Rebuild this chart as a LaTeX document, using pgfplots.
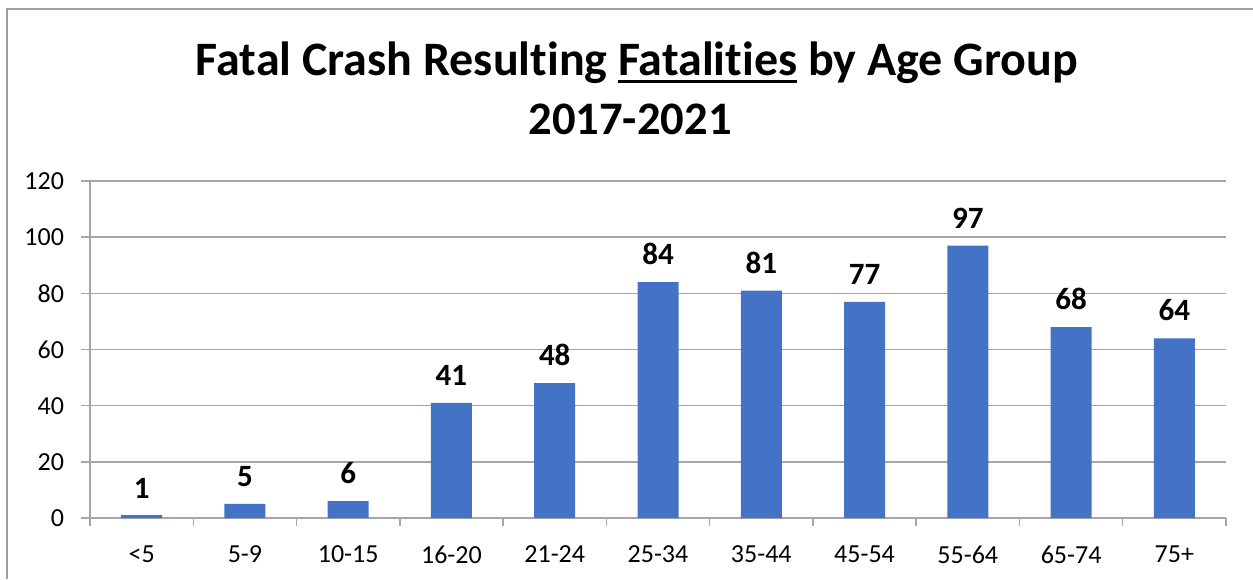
\documentclass[border=0pt]{standalone}
\usepackage{fontspec}
\setmainfont{Carlito}[Ligatures=NoCommon]
\usepackage{pgfplots}
\pgfplotsset{compat=1.18}
\definecolor{barblue}{HTML}{4472C4}
\definecolor{gridgray}{HTML}{A6A6A6}
\definecolor{framegray}{HTML}{A0A0A0}
\newlength\ulw
\newcommand\thickul[1]{\settowidth\ulw{#1}\rlap{\rule[-3.75pt]{\ulw}{1.5pt}}#1}
\begin{document}
\begin{tikzpicture}[x=0.5pt,y=0.5pt]
\useasboundingbox (0,0) rectangle (1253,579);
\draw[framegray, line width=1pt] (7,0) -- (7,569.5) -- (1253,569.5);
\node[font=\bfseries\fontsize{24}{29}\selectfont, anchor=base, inner sep=0pt] at (637,503) {Fatal Crash Result\kern0pt ing \thickul{Fatalit\kern0pt ies} by Age Group};
\node[font=\bfseries\fontsize{23.3}{29}\selectfont, anchor=base, inner sep=0pt] at (630,444) {2017-2021};
\begin{axis}[
  at={(45pt,30.5pt)}, anchor=south west,
  scale only axis, width=568pt, height=168.5pt,
  ybar, bar width=20.5pt,
  xmin=-0.5, xmax=10.5, ymin=0, ymax=120,
  ytick={0,20,...,120},
  xtick={0,...,10},
  xticklabels={<5,5-9,10-15,16-20,21-24,25-34,35-44,45-54,55-64,65-74,75+},
  minor xtick={-0.5,0.5,...,10.5},
  major x tick style={draw=none},
  tick align=outside,
  major tick length=4.5pt,
  minor tick length=4pt,
  axis lines*=left,
  axis line style={gridgray, line width=0.75pt},
  tick style={gridgray, line width=0.75pt},
  ymajorgrids,
  grid style={gridgray, line width=0.75pt},
  ticklabel style={font=\fontsize{13}{15}\selectfont, text=black},
  yticklabel style={xshift=-5pt},
  xticklabel style={yshift=-6pt},
  /pgf/number format/assume math mode=true,
  nodes near coords,
  every node near coord/.append style={font=\bfseries\fontsize{15.5}{18}\selectfont, text=black, yshift=5pt},
]
\addplot[fill=barblue, draw=none] coordinates {
(0,1) (1,5) (2,6) (3,41) (4,48) (5,84) (6,81) (7,77) (8,97) (9,68) (10,64)
};
\end{axis}
\end{tikzpicture}
\end{document}
